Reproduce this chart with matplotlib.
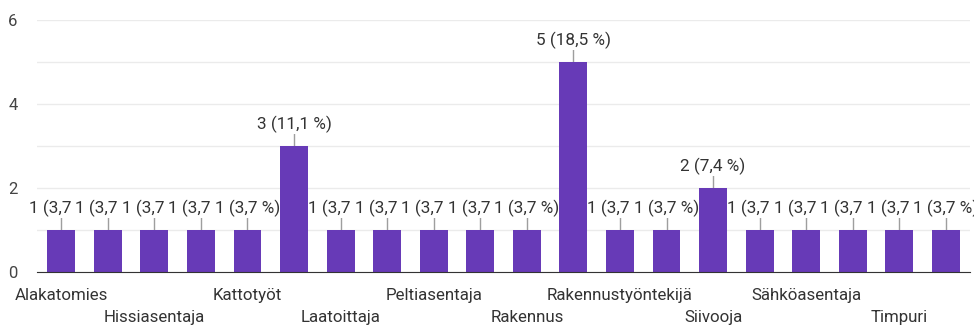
import matplotlib.pyplot as plt

plt.rcParams['font.family'] = ['Roboto', 'DejaVu Sans']

# Responses per occupation (Google Forms style summary)
categories = [
    "Alakatomies", "Asentaja", "Hissiasentaja", "Kaivinkoneenkuljettaja",
    "Kattotyöt", "Kirvesmies", "Laatoittaja", "Maalari", "Peltiasentaja",
    "Putkiasentaja", "Rakennus", "Rakennusmies", "Rakennustyöntekijä",
    "Raudoittaja", "Siivooja", "Sähkö", "Sähköasentaja", "Sähkömies",
    "Timpuri", "Työnjohtaja",
]
counts = [1, 1, 1, 1, 1, 3, 1, 1, 1, 1, 1, 5, 1, 1, 2, 1, 1, 1, 1, 1]
percents = ["3,7", "3,7", "3,7", "3,7", "3,7", "11,1", "3,7", "3,7", "3,7", "3,7",
            "3,7", "18,5", "3,7", "3,7", "7,4", "3,7", "3,7", "3,7", "3,7", "3,7"]

purple = "#673ab7"
text_col = "#333333"

fig = plt.figure(figsize=(9.74, 3.25), dpi=100)
ax = fig.add_axes([0.038, 0.163, 0.958, 0.775])

x = list(range(len(categories)))
ax.bar(x, counts, width=0.6, color=purple, zorder=5)

# data labels with leader lines; each white box covers the previous one
for i, (c, p) in enumerate(zip(counts, percents)):
    ax.plot([i, i], [c, c + 0.3], color="#9e9e9e", lw=1, zorder=3)
    ax.text(i, c + 0.52, f"{c} ({p} %)", ha="center", va="center",
            fontsize=12.3, color=text_col, zorder=4,
            bbox=dict(facecolor="white", edgecolor="none", pad=0.5))

ax.set_xlim(-0.52, 19.52)
ax.set_ylim(0, 6)
ax.set_yticks([0, 2, 4, 6])
ax.set_yticks([1, 3, 5], minor=True)
ax.grid(axis="y", which="both", color="#ebebeb", lw=1, zorder=0)
ax.tick_params(axis="y", which="both", length=0, labelsize=12, labelcolor="#444444", pad=14)

ax.set_xticks(x)
ax.set_xticklabels([])
ax.tick_params(axis="x", length=0)
for i, name in enumerate(categories):
    if i % 2 == 0:
        row = (i // 2) % 2
        ax.annotate(name, xy=(i, 0), xycoords="data",
                    xytext=(0, -23 - 22 * row), textcoords="offset pixels",
                    ha="center", va="center", fontsize=12.2, color=text_col,
                    annotation_clip=False)

for s in ["top", "right", "left"]:
    ax.spines[s].set_visible(False)
ax.spines["bottom"].set_color("#333333")
ax.spines["bottom"].set_zorder(6)

fig.savefig("out.png", dpi=100)
